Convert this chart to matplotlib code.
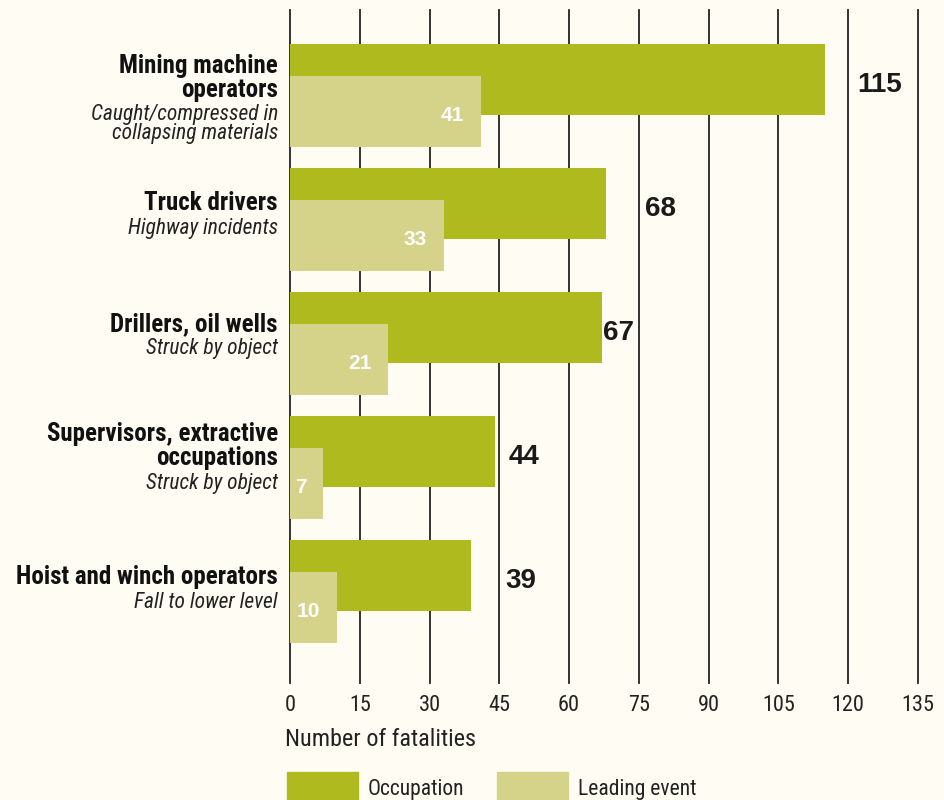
import matplotlib
matplotlib.use("Agg")
import matplotlib.pyplot as plt
from matplotlib import font_manager
from matplotlib.patches import Rectangle

# data
categories = ["Mining machine\noperators", "Truck drivers", "Drillers, oil wells",
              "Supervisors, extractive\noccupations", "Hoist and winch operators"]
events = ["Caught/compressed in\ncollapsing materials", "Highway incidents",
          "Struck by object", "Struck by object", "Fall to lower level"]
occupation = [115, 68, 67, 44, 39]
leading = [41, 33, 21, 7, 10]
ticks = list(range(0, 136, 15))
legend_labels = ["Occupation", "Leading event"]

# styles
BG = "#FFFCF3"
OCC_COLOR = "#AFBA1E"
LEAD_COLOR = "#D5D28A"
total_pad = [7, 8.3, 0.3, 2.9, 7.2]  # hand-placed total labels
label_lift = [-4, 4, 7.5, 9, 2]      # px, category label block nudges

fonts = font_manager.fontManager.ttflist
names = {f.name for f in fonts}
condensed = sorted({f.name for f in fonts
                    if f.stretch in ("condensed", "semi-condensed", "extra-condensed")
                    or "Condensed" in f.name or "Narrow" in f.name})
NARROW, SCALE, STRETCH = "Liberation Sans", 0.84, "normal"
for cand in ["Liberation Sans Narrow", "Roboto Condensed", "Open Sans Condensed",
             "DejaVu Sans Condensed", "Noto Sans Condensed"]:
    if cand in names:
        NARROW, SCALE = cand, 1.0
        break
else:
    if condensed:
        NARROW, SCALE, STRETCH = condensed[0], 1.0, "condensed"
BOLD = "Liberation Sans"


def main():
    fig = plt.figure(figsize=(9.44, 8.0), dpi=100, facecolor=BG)
    ax = fig.add_axes([290 / 944, 1 - 683 / 800, 628 / 944, 673 / 800])
    ax.set_facecolor(BG)
    ax.set_xlim(0, 135)
    ax.set_ylim(4.734, -0.689)
    for s in ax.spines.values():
        s.set_visible(False)

    for t in ticks:
        ax.axvline(t, color="#222222", lw=1.3, zorder=0, clip_on=False)

    pos = list(range(len(categories)))
    off = 0.129
    h = 0.572
    ax.barh([p - off for p in pos], occupation, height=h, color=OCC_COLOR, zorder=2)
    ax.barh([p + off for p in pos], leading, height=h, color=LEAD_COLOR, zorder=3)

    nf = dict(family=NARROW, fontstretch=STRETCH)
    ax.set_xticks(ticks)
    ax.set_xticklabels([str(t) for t in ticks], fontsize=16 * SCALE, color="#222222", **nf)
    ax.tick_params(axis="x", length=0, pad=8.5)
    ax.set_yticks([])

    for p, v, pad in zip(pos, occupation, total_pad):
        ax.text(v + pad, p - off + 0.045, str(v), ha="left", va="center",
                family=BOLD, fontweight="bold", fontsize=20, color="#1a1a1a")
    for p, v in zip(pos, leading):
        ax.text(v - 3.5, p + off + 0.03, str(v), ha="right", va="center",
                family=BOLD, fontweight="bold", fontsize=15, color="white", zorder=4)

    # category labels, bold name lines then italic event lines
    for p, cat, ev, lift in zip(pos, categories, events, label_lift):
        lines = [(s, "bold") for s in cat.split("\n")] + [(s, "italic") for s in ev.split("\n")]
        ys = []
        y = 0
        prev = None
        for _, kind in lines:
            if prev is not None:
                y += 24 if prev == "bold" and kind == "bold" else (25 if kind != prev else 19)
            ys.append(y)
            prev = kind
        mid = (ys[0] + ys[-1]) / 2 + lift
        for (txt, kind), yy in zip(lines, ys):
            dy = -(yy - mid) * 0.72
            if kind == "bold":
                kw = dict(fontweight="bold", fontsize=18 * SCALE, color="#111111")
            else:
                kw = dict(fontstyle="italic", fontsize=15.5 * SCALE, color="#222222")
            ax.annotate(txt, xy=(0, p), xycoords=("axes fraction", "data"),
                        xytext=(-12 * 0.72, dy), textcoords="offset points",
                        ha="right", va="center", **nf, **kw)

    fig.text(285 / 944, 1 - 740 / 800, "Number of fatalities", ha="left", va="center",
             fontsize=17.5 * SCALE, color="#222222", **nf)

    # legend
    for x0, col, lab in zip([287, 497], [OCC_COLOR, LEAD_COLOR], legend_labels):
        fig.add_artist(Rectangle((x0 / 944, 0), 71 / 944, 28 / 800,
                                 transform=fig.transFigure, color=col))
        fig.text((x0 + 81) / 944, 1 - 790 / 800, lab, ha="left", va="center",
                 fontsize=15.5 * SCALE, color="#222222", **nf)

    fig.savefig("out.png", dpi=100, facecolor=BG)


if __name__ == "__main__":
    main()
